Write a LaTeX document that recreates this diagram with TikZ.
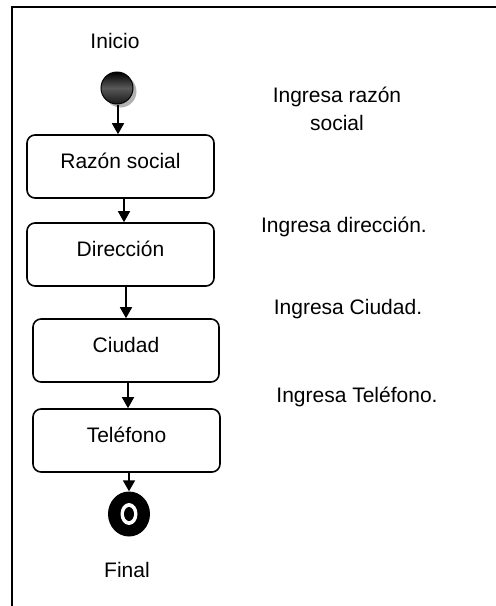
\documentclass[tikz,border=0pt]{standalone}
\usepackage{fontspec}
\setmainfont{Liberation Sans}
\usetikzlibrary{arrows.meta,shadows,shapes.geometric}
\begin{document}
\begin{tikzpicture}[x=1pt,y=-1pt,
  box/.style={draw,line width=1.6pt,rounded corners=8pt,minimum width=187pt,minimum height=63pt,
    font=\fontsize{21}{25}\selectfont,inner sep=0pt,text height=12pt,text depth=9pt},
  lbl/.style={font=\fontsize{21}{28.4}\selectfont,align=center,inner sep=0pt,anchor=base},
  arr/.style={line width=1.7pt,-{Triangle[width=12pt,length=11pt]}}]
\useasboundingbox (0,0) rectangle (496,606);
\draw[line width=2.4pt] (496,7) -- (12,7) -- (12,606);

% start node
\node (start) [circle,minimum size=32pt,inner sep=0pt,draw,line width=1pt,
  top color=black,bottom color=black!90!white,middle color=black!65!white,
  drop shadow={shadow xshift=3.5pt,shadow yshift=-3.5pt,fill=gray!60,opacity=1}] at (117,88) {};

% activity boxes
\node (rs)  [box] at (120.5,166.5) {Razón social};
\node (dir) [box] at (120.5,254.5) {Dirección};
\node (ciu) [box,minimum width=186pt] at (126,350.5) {Ciudad};
\node (tel) [box] at (126.5,440.5) {Teléfono};

% final node
\node (fin) [ellipse,fill=black,minimum width=42pt,minimum height=45pt,inner sep=0pt] at (129,514) {};
\fill[white] (fin.center) ellipse [x radius=8.5pt,y radius=11pt];
\fill[black] (fin.center) ellipse [x radius=5pt,y radius=7pt];

% connectors
\coordinate (a0) at ([xshift=1pt]start.south);
\coordinate (a1) at ([xshift=3.5pt]rs.south);
\coordinate (a2) at ([xshift=5.5pt]dir.south);
\coordinate (a3) at ([xshift=2pt]ciu.south);
\coordinate (a4) at ([xshift=2.5pt]tel.south);
\draw[arr] (a0) -- (a0 |- rs.north);
\draw[arr] (a1) -- (a1 |- dir.north);
\draw[arr] (a2) -- (a2 |- ciu.north);
\draw[arr] (a3) -- (a3 |- tel.north);
\draw[arr] (a4) -- (a4 |- fin.north);

% labels
\node (tInicio) [lbl] at (115,48) {Inicio};
\node (tFinal) [lbl] at (127,577) {Final};
\node (t1) [lbl] at (337,130.5) {Ingresa razón\\social};
\node (t2) [lbl] at (344,232) {Ingresa dirección.};
\node (t3) [lbl] at (348,314) {Ingresa Ciudad.};
\node (t4) [lbl] at (357,402) {Ingresa Teléfono.};
\end{tikzpicture}
\end{document}
